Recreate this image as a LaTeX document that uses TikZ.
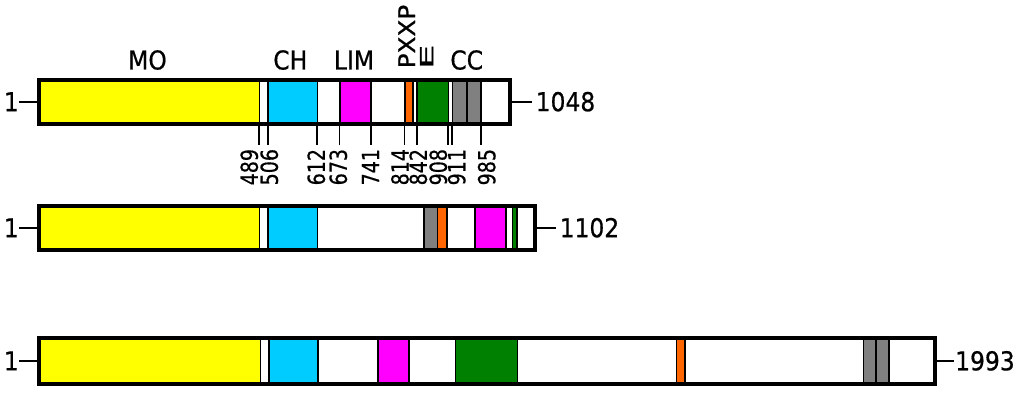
\documentclass[tikz,border=0pt]{standalone}
\usepackage{fontspec}
\setmainfont{DejaVu Sans}[FakeStretch=0.9,FakeBold=0.6]
\usepackage{graphicx}
\definecolor{cyel}{HTML}{FFFF00}
\definecolor{ccya}{HTML}{00CCFF}
\definecolor{cmag}{HTML}{FF00FF}
\definecolor{cora}{HTML}{FF6600}
\definecolor{cgre}{HTML}{008000}
\definecolor{cgra}{HTML}{808080}
\begin{document}
\begin{tikzpicture}[x=1pt,y=-1pt,
  segbox/.style={draw=black,line width=1.6pt},
  barframe/.style={draw=black,line width=4pt,inner sep=0pt},
  toplab/.style={font=\fontsize{26}{31}\selectfont,inner sep=0pt},
  sidelab/.style={font=\fontsize{26}{31}\selectfont,inner sep=0pt},
  poslab/.style={font=\fontsize{23.5}{28}\selectfont,inner sep=0pt,rotate=90,anchor=east},
  tickline/.style={line width=1.7pt}]
\useasboundingbox (0,0) rectangle (1024,393);

% ---- bar 1 segments
\foreach \a/\b/\c in {39/259.5/cyel, 259.5/268/white, 268/317.5/ccya, 317.5/339.7/white,
  339.7/370.7/cmag, 370.7/404.7/white, 404.7/413/cora, 413/416.8/white, 416.8/448.3/cgre,
  448.3/452.3/white, 452.3/467/cgra, 467/480.7/cgra, 480.7/510/white}
  \draw[segbox,fill=\c] (\a,79.7) rectangle (\b,123.7);
\node[barframe,minimum width=471pt,minimum height=44pt] (bar1) at (274.5,101.7) {};

% ---- bar 2 segments
\foreach \a/\b/\c in {39/259.5/cyel, 259.5/268/white, 268/317.5/ccya, 317.5/424/white,
  424/437.5/cgra, 437.5/447/cora, 447/474.8/white, 474.8/506/cmag, 506/512.5/white,
  512.5/517/cgre, 517/535/white}
  \draw[segbox,fill=\c] (\a,205.5) rectangle (\b,250);
\node[barframe,minimum width=496pt,minimum height=44.5pt] (bar2) at (287,227.75) {};

% ---- bar 3 segments
\foreach \a/\b/\c in {39/260.5/cyel, 260.5/269/white, 269/318/ccya, 318/378/white,
  378/409/cmag, 409/455.5/white, 455.5/517.5/cgre, 517.5/676.5/white, 676.5/685/cora,
  685/863.5/white, 863.5/876/cgra, 876/889/cgra, 889/934.5/white}
  \draw[segbox,fill=\c] (\a,338) rectangle (\b,383.7);
\node[barframe,minimum width=895.5pt,minimum height=45.7pt] (bar3) at (486.75,360.85) {};

% ---- start / end labels
\node[sidelab,anchor=east] (s1) at (19,101.7) {1};
\node[sidelab,anchor=east] (s2) at (19,227.75) {1};
\node[sidelab,anchor=east] (s3) at (19,360.85) {1};
\draw[tickline] (s1.east) -- (bar1.west);
\draw[tickline] (s2.east) -- (bar2.west);
\draw[tickline] (s3.east) -- (bar3.west);
\node[sidelab,anchor=west] (e1) at (535.5,101.7) {1048};
\node[sidelab,anchor=west] (e2) at (559.5,227.75) {1102};
\node[sidelab,anchor=west] (e3) at (955,360.85) {1993};
\draw[tickline,shorten >=4pt] (bar1.east) -- (e1.west);
\draw[tickline,shorten >=4pt] (bar2.east) -- (e2.west);
\draw[tickline,shorten >=1pt] (bar3.east) -- (e3.west);

% ---- domain names
\node[toplab,anchor=base] (nMO) at (147.5,69.5) {MO};
\node[toplab,anchor=base] (nCH) at (290.3,69.5) {CH};
\node[toplab,anchor=base] (nLIM) at (354,69.5) {LIM};
\node[toplab,anchor=base] (nCC) at (466.7,69.5) {CC};
\node[toplab,rotate=90,anchor=base west] (nPXXP) at (415,68.5) {\resizebox{63.5pt}{16.7pt}{PXXP}};
\node[toplab,rotate=90,anchor=base west] (nE) at (433.3,69.5) {\resizebox{25pt}{13.3pt}{E}};

% ---- position ticks (tick x / label centre x / number)
\foreach \x/\lx/\nm in {259/249.3/489, 268.3/269.3/506, 316.8/316.3/612, 339.5/338.3/673,
  370.7/370.5/741, 404.5/400/814, 416.8/418.3/842, 448.3/438.3/908, 452.3/456.7/911,
  480.7/486.7/985}{
  \coordinate (t\nm) at (\x,123.7);
  \node[poslab] (l\nm) at (\lx,148.8) {\scalebox{0.9}[1]{\nm}};
  \draw[tickline,shorten >=3.8pt] (t\nm) -- (t\nm |- l\nm.east);
}
\end{tikzpicture}
\end{document}
